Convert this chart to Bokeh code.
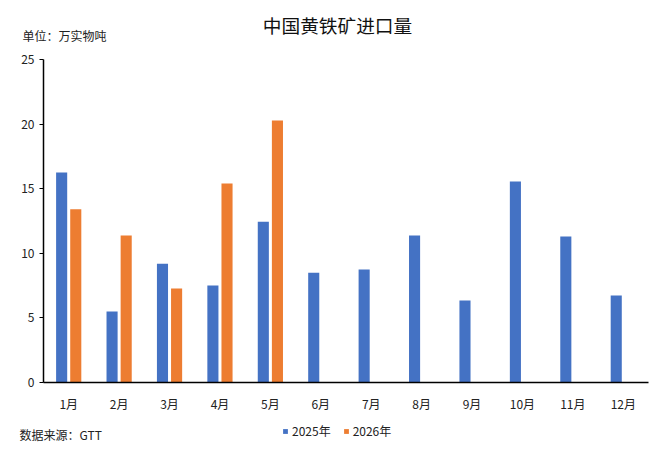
from bokeh.plotting import figure
from bokeh.layouts import column
from bokeh.models import Range1d, Legend, LegendItem, ColumnDataSource, Label
from bokeh.transform import dodge
from bokeh.embed import file_html
from bokeh.resources import INLINE

months = ["1月", "2月", "3月", "4月", "5月", "6月", "7月", "8月", "9月", "10月", "11月", "12月"]
v2025 = [16.25, 5.5, 9.2, 7.5, 12.45, 8.5, 8.75, 11.38, 6.35, 15.55, 11.3, 6.73]
months_2026 = ["1月", "2月", "3月", "4月", "5月"]
v2026 = [13.4, 11.38, 7.28, 15.4, 20.28]
y_ticks = [0, 5, 10, 15, 20, 25]
series_names = ["2025年", "2026年"]
colors = ["#4472C4", "#ED7D31"]

FONT = "Noto Sans CJK SC"
W = 660
TEXT_C = "#222222"

s1 = ColumnDataSource(dict(m=months, v=v2025))
s2 = ColumnDataSource(dict(m=months_2026, v=v2026))


def text_figure(h, y_range):
    f = figure(width=W, height=h, x_range=months, y_range=y_range,
               x_axis_type=None, y_axis_type=None, title=None,
               output_backend="svg", toolbar_location=None, min_border=0,
               frame_align=False)
    f.outline_line_color = None
    f.grid.visible = False
    return f


# ---- header: title and unit
top = text_figure(45, Range1d(0, 1))
top.add_layout(Label(x=337, y=21, x_units="screen", y_units="screen",
                     text="中国黄铁矿进口量", text_font=FONT, text_font_size="18.7px",
                     text_align="center", text_baseline="middle", text_color="#111111"))
top.add_layout(Label(x=22, y=10, x_units="screen", y_units="screen",
                     text="单位：万实物吨", text_font=FONT, text_font_size="12px",
                     text_align="left", text_baseline="middle", text_color=TEXT_C))

# ---- main chart
p = figure(width=W, height=370, x_range=months, y_range=Range1d(0, 25), title=None,
           output_backend="svg", toolbar_location=None, frame_align=False,
           min_border_left=43, min_border_right=12, min_border_top=14,
           min_border_bottom=33)
p.outline_line_color = None
p.grid.visible = False

p.vbar(x=dodge("m", -0.14, range=p.x_range), top="v", width=0.22, source=s1,
       fill_color=colors[0], line_color=None)
p.vbar(x=dodge("m", 0.14, range=p.x_range), top="v", width=0.22, source=s2,
       fill_color=colors[1], line_color=None)

p.yaxis.ticker = y_ticks
p.yaxis.axis_line_color = "black"
p.yaxis.axis_line_width = 1.5
p.yaxis.major_tick_line_color = "black"
p.yaxis.major_tick_out = 4
p.yaxis.major_tick_in = 0
p.yaxis.minor_tick_line_color = None
p.yaxis.major_label_text_font = FONT
p.yaxis.major_label_text_font_size = "12px"
p.yaxis.major_label_text_color = TEXT_C

p.xaxis.axis_line_color = "black"
p.xaxis.axis_line_width = 1.5
p.xaxis.major_tick_line_color = None
p.xaxis.minor_tick_line_color = None
p.xaxis.major_label_standoff = 6
p.xaxis.major_label_text_font = FONT
p.xaxis.major_label_text_font_size = "12px"
p.xaxis.major_label_text_color = TEXT_C

# ---- footer: source and legend (series drawn here only for the legend keys;
#      the footer's y range lies above all values, so no bar is visible)
bot = text_figure(35, Range1d(100, 101))
bot.add_layout(Label(x=19, y=16, x_units="screen", y_units="screen",
                     text="数据来源：GTT", text_font=FONT, text_font_size="12px",
                     text_align="left", text_baseline="middle", text_color=TEXT_C))
items = []
for name, c, src in zip(series_names, colors, (s1, s2)):
    r = bot.vbar(x="m", top="v", width=0.22, source=src, fill_color=c, line_color=None)
    items.append(LegendItem(label=name, renderers=[r]))
legend = Legend(items=items, location=(282, 11), orientation="horizontal",
                border_line_color=None, background_fill_alpha=0,
                padding=0, margin=0, spacing=12,
                glyph_width=6, glyph_height=6, label_height=16,
                label_standoff=4,
                label_text_font=FONT, label_text_font_size="12px",
                label_text_color=TEXT_C)
bot.add_layout(legend)

layout = column(top, p, bot, spacing=0)
open("out.html", "w").write(file_html(layout, INLINE))
